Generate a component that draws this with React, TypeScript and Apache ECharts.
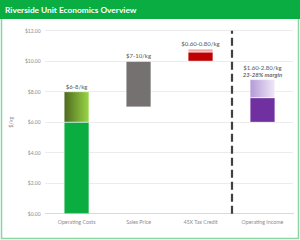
import React, { useEffect, useRef } from "react";
import * as echarts from "echarts";

const categories = ["Operating Costs", "Sales Price", "45X Tax Credit", "Operating Income"];
const baseValues = [0, 7, 10, 6];
const solidValues = [6, 3, 0.6, 1.6];
const upperValues = [2, 0, 0.2, 1.2];
const labelLines1 = ["$6-8/kg", "$7-10/kg", "$0.60-0.80/kg", "$1.60-2.80/kg"];
const labelLines2 = ["", "", "", "23-28% margin"];
const yTicks = { min: 0, max: 12, interval: 2 };
const dividerAt = 3;

const FONT = "Lato, 'Open Sans', sans-serif";

export default function App() {
  const ref = useRef<HTMLDivElement>(null);
  useEffect(() => {
    if (!ref.current) return;
    const chart = echarts.init(ref.current, null, { renderer: "svg" });
    const lg = (a: string, b: string) =>
      new echarts.graphic.LinearGradient(0, 0, 1, 0, [
        { offset: 0, color: a },
        { offset: 1, color: b },
      ]);
    const solidColors = ["#0aad3f", "#767171", "#c00000", "#7030a0"];
    const upperColors = [
      lg("#4e6a1f", "#9ad646"),
      "#767171",
      "#f4a6a6",
      lg("#b49ad6", "#efe9f7"),
    ];
    const tops = baseValues.map((b, i) => b + solidValues[i] + upperValues[i]);
    chart.setOption({
      animation: false,
      textStyle: { fontFamily: FONT },
      graphic: [
        { type: "rect", shape: { x: 1.5, y: 0, width: 297, height: 238.5 }, style: { fill: "none", stroke: "#86d6a4", lineWidth: 1.5 }, z: 100 },
        { type: "rect", shape: { x: 0, y: 0, width: 300, height: 19 }, style: { fill: "#0aad41" }, z: 101 },
        { type: "text", x: 5, y: 9.5, style: { text: "Riverside Unit Economics Overview", fill: "#ffffff", font: `bold 8.3px ${FONT}`, verticalAlign: "middle" }, z: 102 },
      ],
      grid: { left: 40, right: 6.5, top: 30.7, bottom: 26.3 },
      xAxis: [
        {
          type: "category",
          data: categories,
          axisLine: { lineStyle: { color: "#d9d9d9" } },
          axisTick: { show: false },
          axisLabel: { color: "#8c8c8c", fontSize: 5.3, margin: 6 },
        },
        { type: "value", min: 0, max: 4, show: false },
      ],
      yAxis: {
        type: "value",
        min: yTicks.min,
        max: yTicks.max,
        interval: yTicks.interval,
        name: "$/kg",
        nameLocation: "middle",
        nameGap: 24,
        nameTextStyle: { color: "#8c8c8c", fontSize: 5.5 },
        axisLabel: { color: "#8c8c8c", fontSize: 5, margin: 5, formatter: (v: number) => "$" + v.toFixed(2) },
        axisLine: { show: false },
        axisTick: { show: false },
        splitLine: { lineStyle: { color: "#d9d9d9", type: "dotted", width: 1 } },
      },
      series: [
        {
          type: "bar",
          stack: "s",
          barWidth: 25,
          data: baseValues,
          itemStyle: { color: "transparent" },
          silent: true,
        },
        {
          type: "bar",
          stack: "s",
          barWidth: 25,
          data: solidValues.map((v, i) => ({ value: v, itemStyle: { color: solidColors[i] } })),
          itemStyle: { borderColor: "rgba(255,255,255,0.5)", borderWidth: 0.5 },
        },
        {
          type: "bar",
          stack: "s",
          barWidth: 25,
          data: upperValues.map((v, i) => ({ value: v, itemStyle: { color: upperColors[i] } })),
          itemStyle: { borderColor: "rgba(255,255,255,0.5)", borderWidth: 0.5 },
        },
        {
          type: "scatter",
          data: tops,
          symbolSize: 1,
          itemStyle: { color: "transparent" },
          label: {
            show: true,
            position: "top",
            distance: 1.5,
            formatter: (p: any) => {
              const i = p.dataIndex;
              return labelLines2[i]
                ? `{a|${labelLines1[i]}}\n{b|${labelLines2[i]}}`
                : `{a|${labelLines1[i]}}`;
            },
            rich: {
              a: { fontSize: 6, fontWeight: 600, color: "#404040", lineHeight: 6.5, fontFamily: FONT },
              b: { fontSize: 6, fontWeight: "bold", fontStyle: "italic", color: "#404040", lineHeight: 6.5, fontFamily: FONT },
            },
          },
        },
        {
          type: "line",
          xAxisIndex: 1,
          data: [],
          markLine: {
            silent: true,
            symbol: "none",
            label: { show: false },
            lineStyle: { color: "#404040", type: [8, 4], width: 2.2 },
            data: [{ xAxis: dividerAt }],
          },
        },
      ],
    });
    return () => chart.dispose();
  }, []);
  return (
    <div
      ref={ref}
      style={{ position: "absolute", left: 0, top: 0, width: 300, height: 240, background: "#fff" }}
    />
  );
}
